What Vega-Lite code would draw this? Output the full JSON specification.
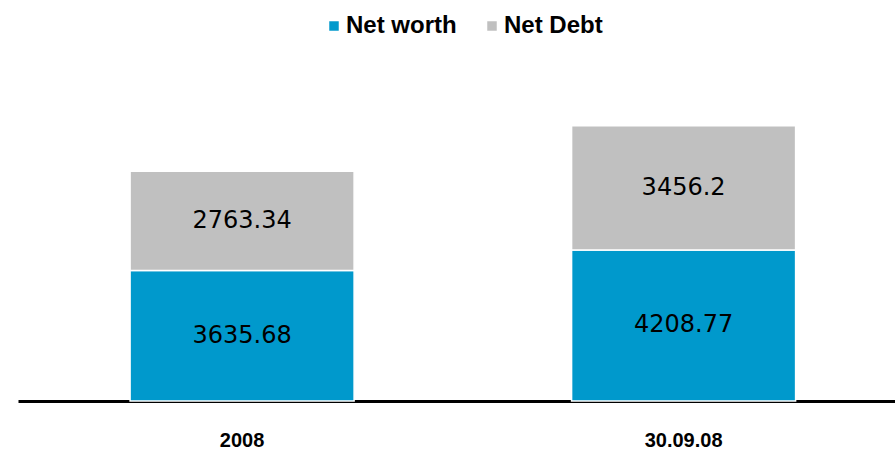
{
  "$schema": "https://vega.github.io/schema/vega-lite/v6.json",
  "autosize": {"type": "none"},
  "padding": {"left": 18, "top": 42, "right": 0, "bottom": 49},
  "width": 877,
  "height": 359,
  "background": "white",
  "config": {"view": {"stroke": null}},
  "data": {
    "values": [
      {"period": "2008", "series": "Net worth", "value": 3635.68},
      {"period": "2008", "series": "Net Debt", "value": 2763.34},
      {"period": "30.09.08", "series": "Net worth", "value": 4208.77},
      {"period": "30.09.08", "series": "Net Debt", "value": 3456.2}
    ]
  },
  "transform": [
    {"stack": "value", "groupby": ["period"], "sort": [{"field": "series", "order": "descending"}], "as": ["y0", "y1"]},
    {"calculate": "(datum.y0 + datum.y1) / 2", "as": "ymid"}
  ],
  "encoding": {
    "x": {
      "field": "period", "type": "nominal", "sort": ["2008", "30.09.08"],
      "scale": {"paddingInner": 0.4926, "paddingOuter": 0.2395, "align": 0.53},
      "axis": {
        "title": null, "labelAngle": 0, "ticks": false,
        "domainColor": "black", "domainWidth": 3,
        "labelFont": "Liberation Sans", "labelFontWeight": "bold", "labelFontSize": 20,
        "labelColor": "black", "labelPadding": 29
      }
    }
  },
  "layer": [
    {
      "mark": {"type": "bar", "stroke": "white", "strokeWidth": 1.5},
      "encoding": {
        "y": {"field": "y0", "type": "quantitative", "scale": {"domain": [0, 10000]}, "axis": null},
        "y2": {"field": "y1"},
        "color": {
          "field": "series", "type": "nominal",
          "scale": {"domain": ["Net worth", "Net Debt"], "range": ["#0099CC", "#C0C0C0"]},
          "legend": {
            "title": null, "orient": "none", "direction": "horizontal",
            "legendX": 304, "legendY": -28,
            "symbolType": "square", "symbolSize": 90, "symbolStrokeWidth": 0,
            "labelFont": "Liberation Sans", "labelFontWeight": "bold", "labelFontSize": 24,
            "labelColor": "black", "labelOffset": 0, "columnPadding": 23
          }
        }
      }
    },
    {
      "mark": {"type": "text", "font": "DejaVu Sans", "fontSize": 24, "color": "black", "baseline": "middle"},
      "encoding": {
        "y": {"field": "ymid", "type": "quantitative", "scale": {"domain": [0, 10000]}},
        "text": {"field": "value", "type": "nominal"}
      }
    }
  ]
}
